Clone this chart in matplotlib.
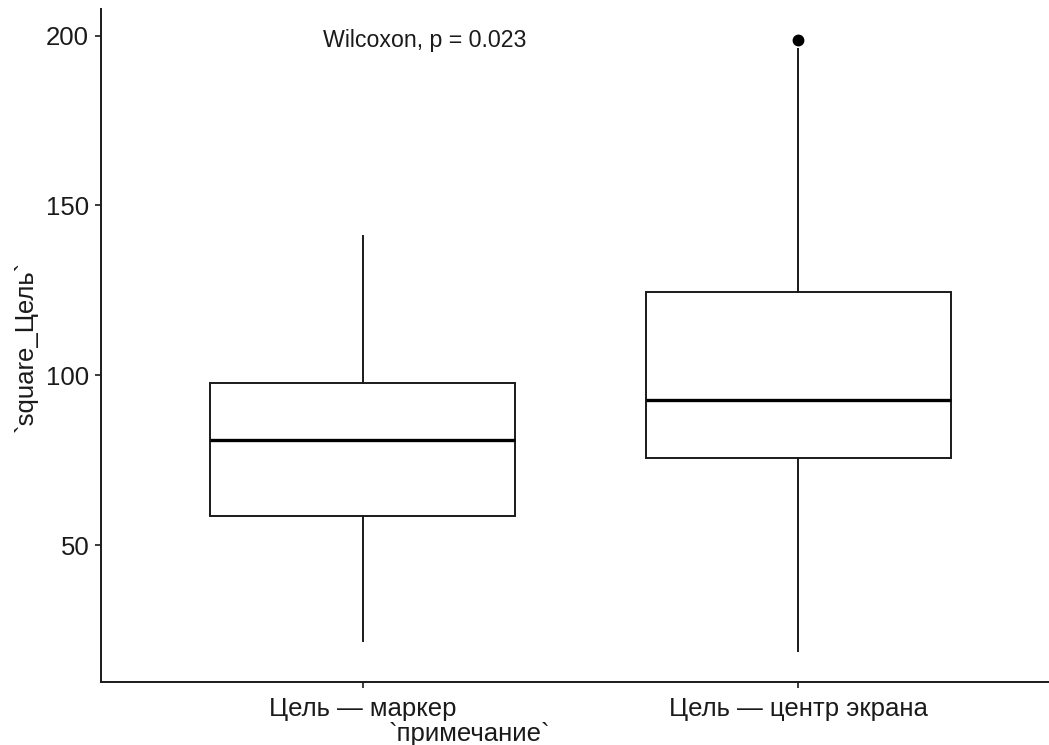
import matplotlib
matplotlib.use("Agg")
import matplotlib.pyplot as plt

plt.rcParams['font.family'] = ['Liberation Sans', 'DejaVu Sans']

categories = ["Цель — маркер", "Цель — центр экрана"]
whisker_low = [21.9, 18.9]
q1 = [58.6, 75.6]
median = [80.9, 92.9]
q3 = [97.85, 124.5]
whisker_high = [140.9, 196.0]
outliers = [[], [198.8]]
yticks = [50, 100, 150, 200]
annotation = "Wilcoxon, p = 0.023"

W, H = 1049, 745
fig = plt.figure(figsize=(W / 100, H / 100), dpi=100)
left, right, top, bottom = 101, 1060, 9, 682
ax = fig.add_axes([left / W, (H - bottom) / H, (right - left) / W, (bottom - top) / H])

stats = []
for i in range(len(categories)):
    stats.append(dict(whislo=whisker_low[i], q1=q1[i], med=median[i], q3=q3[i],
                      whishi=whisker_high[i], fliers=outliers[i], label=categories[i]))

ax.bxp(stats, positions=[1, 2], widths=0.7, showcaps=False, patch_artist=True,
       boxprops=dict(facecolor='white', edgecolor='#1a1a1a', linewidth=1.4),
       medianprops=dict(color='black', linewidth=2.4, solid_capstyle='butt'),
       whiskerprops=dict(color='#1a1a1a', linewidth=1.4),
       flierprops=dict(marker='o', markerfacecolor='black', markeredgecolor='black',
                       markersize=7.5))

ax.set_xlim(0.4, 2.6)
ax.set_ylim(9.8, 207.8)
ax.set_yticks(yticks)
ax.set_xticks([1, 2])
ax.set_xticklabels(categories)

for s in ['top', 'right']:
    ax.spines[s].set_visible(False)
for s in ['left', 'bottom']:
    ax.spines[s].set_linewidth(1.4)
    ax.spines[s].set_color('#1a1a1a')
ax.tick_params(axis='both', length=4.5, width=1.2, color='#1a1a1a',
               labelsize=18.5, labelcolor='#1a1a1a')
ax.tick_params(axis='x', pad=6)
ax.tick_params(axis='y', pad=4)

ax.text(0.909, 198.5, annotation, ha='left', va='center', fontsize=16.7, color='#1a1a1a')

fig.text(469 / W, 1 - 734 / H, "`примечание`", ha='center', va='center', fontsize=18.5, color='#1a1a1a')
fig.text(26 / W, 1 - 346 / H, "`square_Цель`", ha='center', va='center', rotation=90,
         fontsize=18.5, color='#1a1a1a')

fig.savefig("out.png", dpi=100)
